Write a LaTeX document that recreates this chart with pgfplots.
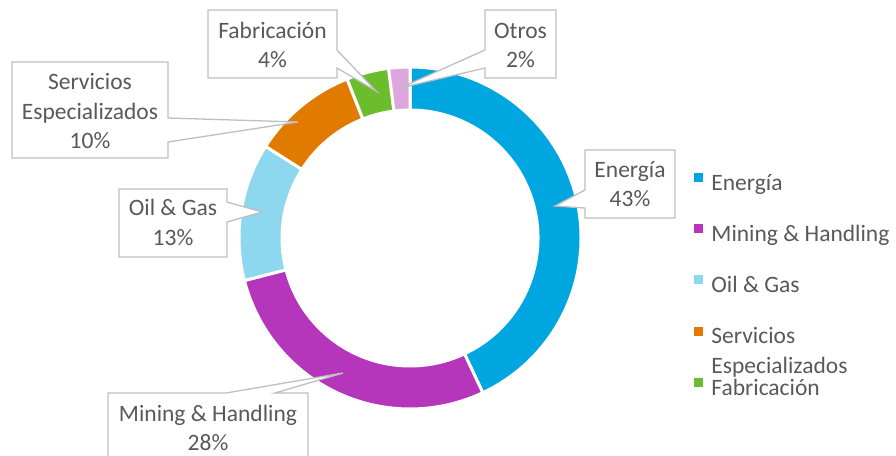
\documentclass[border=0pt]{standalone}
\usepackage{pgfplots}
\usepackage{pgfplotstable}
\pgfplotsset{compat=1.18}
\usepackage{fontspec}
\setmainfont{Carlito}

\definecolor{cEnergia}{HTML}{00A6E0}
\definecolor{cMining}{HTML}{B535BB}
\definecolor{cOil}{HTML}{8DD7EF}
\definecolor{cServ}{HTML}{E07B00}
\definecolor{cFab}{HTML}{6BBD2D}
\definecolor{cOtros}{HTML}{DDA6DE}
\definecolor{txt}{HTML}{595959}
\definecolor{boxc}{HTML}{BFBFBF}

\newcommand\lbl{\fontsize{23.5}{29.5}\selectfont}

\pgfplotstableread[col sep=comma]{
name,value,color
Energía,43,cEnergia
Mining & Handling,28,cMining
Oil & Gas,13,cOil
Servicios Especializados,10,cServ
Fabricación,4,cFab
Otros,2,cOtros
}\slices

\begin{document}
\begin{tikzpicture}
\useasboundingbox (0,0) rectangle (896pt,455pt);
\begin{axis}[
  at={(0,0)}, anchor=south west,
  scale only axis, width=896pt, height=455pt,
  xmin=0, xmax=896, ymin=0, ymax=455, y dir=reverse,
  hide axis, clip=false,
  legend style={at={(axis cs:694,173)}, anchor=north west, draw=none, fill=none,
    inner sep=0pt, outer sep=0pt, font=\lbl, text=txt,
    column sep=9pt, row sep=28pt,
    nodes={inner sep=0pt, text height=17pt, text depth=6pt}},
  legend cell align=left,
]
\def\aStart{90}
\pgfplotsforeachungrouped \i in {0,...,5}{%
  \pgfplotstablegetelem{\i}{value}\of\slices \let\v\pgfplotsretval
  \pgfplotstablegetelem{\i}{color}\of\slices \let\c\pgfplotsretval
  \pgfmathsetmacro\aEnd{\aStart-3.6*\v}%
  \edef\temp{\noexpand\filldraw[fill=\c, draw=white, line width=3pt]
     ([shift={(\aStart:171pt)}]axis cs:410,238) arc[start angle=\aStart, end angle=\aEnd, radius=171pt]
     -- ([shift={(\aEnd:128pt)}]axis cs:410,238) arc[start angle=\aEnd, end angle=\aStart, radius=128pt] -- cycle;}%
  \temp
  \global\let\aStart\aEnd
}

% legend
\addlegendimage{legend image code/.code={\fill[cEnergia] (0pt,3.5pt) rectangle (8pt,11.5pt);}}
\addlegendentry{Energía}
\addlegendimage{legend image code/.code={\fill[cMining] (0pt,3.5pt) rectangle (8pt,11.5pt);}}
\addlegendentry{Mining \& Handling}
\addlegendimage{legend image code/.code={\fill[cOil] (0pt,3.5pt) rectangle (8pt,11.5pt);}}
\addlegendentry{Oil \& Gas}
\addlegendimage{legend image code/.code={\fill[cServ] (0pt,3.5pt) rectangle (8pt,11.5pt);}}
\addlegendentry{\begin{tabular}[t]{@{}l@{}}Servicios\\Especializados\end{tabular}}
\addlegendimage{legend image code/.code={\fill[cFab] (0pt,3.5pt) rectangle (8pt,11.5pt);}}
\addlegendentry{Fabricación}

% callouts
\tikzset{callout/.style={draw=boxc, fill=white, line width=1.3pt, line join=miter}}
\draw[callout] (axis cs:208,10) -- (axis cs:337,10) -- (axis cs:337,50) -- (axis cs:376,91) -- (axis cs:337,68) -- (axis cs:337,78) -- (axis cs:208,78) -- cycle;
\draw[callout] (axis cs:485,10) -- (axis cs:556,10) -- (axis cs:556,78) -- (axis cs:485,78) -- (axis cs:485,68) -- (axis cs:400,88) -- (axis cs:485,50) -- cycle;
\draw[callout] (axis cs:12,62) -- (axis cs:168,62) -- (axis cs:168,118) -- (axis cs:298,122) -- (axis cs:168,142) -- (axis cs:168,158) -- (axis cs:12,158) -- cycle;
\draw[callout] (axis cs:119,189) -- (axis cs:227,189) -- (axis cs:227,202) -- (axis cs:262,212) -- (axis cs:227,222) -- (axis cs:227,257) -- (axis cs:119,257) -- cycle;
\draw[callout] (axis cs:585,150) -- (axis cs:675,150) -- (axis cs:675,218) -- (axis cs:585,218) -- (axis cs:585,208) -- (axis cs:555,206) -- (axis cs:585,190) -- cycle;
\draw[callout] (axis cs:108,470) -- (axis cs:108,393) -- (axis cs:226,393) -- (axis cs:343,373) -- (axis cs:275,393) -- (axis cs:308,393) -- (axis cs:308,470);

\tikzset{lt/.style={anchor=base, inner sep=0pt, text=txt, font=\lbl}}
\node[lt] at (axis cs:272.5,38.3) {Fabricación};
\node[lt] at (axis cs:272.5,67.7) {4\%};
\node[lt] at (axis cs:520.5,38.3) {Otros};
\node[lt] at (axis cs:520.5,67.7) {2\%};
\node[lt] at (axis cs:90,89.3) {Servicios};
\node[lt] at (axis cs:90,119) {Especializados};
\node[lt] at (axis cs:90,148.3) {10\%};
\node[lt] at (axis cs:173,215.7) {Oil \& Gas};
\node[lt] at (axis cs:173,245) {13\%};
\node[lt] at (axis cs:630,177.7) {Energía};
\node[lt] at (axis cs:630,206.7) {43\%};
\node[lt] at (axis cs:208,421.7) {Mining \& Handling};
\node[lt] at (axis cs:208,450) {28\%};
\end{axis}
\end{tikzpicture}
\end{document}
